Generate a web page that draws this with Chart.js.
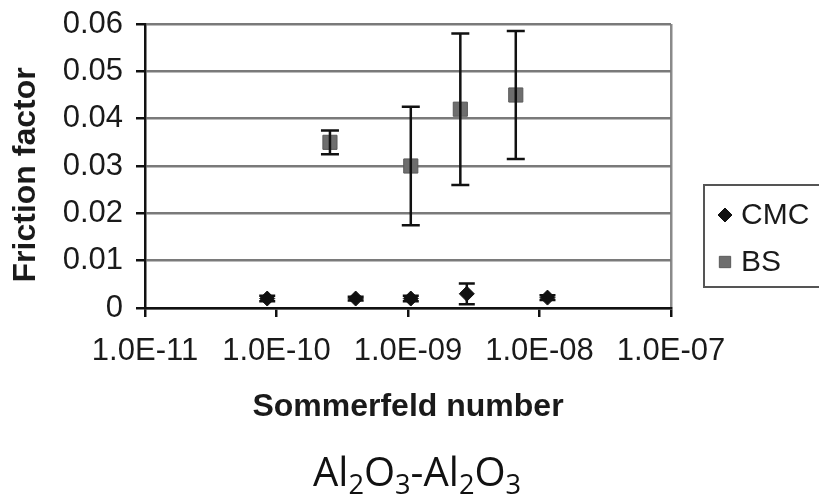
<!DOCTYPE html>
<html>
<head>
<meta charset="utf-8">
<script src="https://cdn.jsdelivr.net/npm/chart.js@4.4.1/dist/chart.umd.min.js"></script>
<style>
  html, body { margin: 0; padding: 0; background: #fff; }
  #wrap { position: relative; width: 819px; height: 497px; overflow: hidden; }
  #graf { position: absolute; left: 0; top: 0; }
  #sub {
    position: absolute; left: 313px; top: 451px;
    font-family: "Open Sans", sans-serif; font-size: 40px; line-height: 1;
    color: #111; white-space: nowrap;
  }
  #sub span { font-size: 0.68em; position: relative; top: 0.3em; }
</style>
</head>
<body>
<div id="wrap">
  <canvas id="graf" width="819" height="497"></canvas>
  <div id="sub">Al<span>2</span>O<span>3</span>-Al<span>2</span>O<span>3</span></div>
</div>
<script>
// data
const cmcX = [8.5e-11, 4.0e-10, 1.05e-9, 2.8e-9, 1.15e-8];
const cmcY = [0.002, 0.002, 0.002, 0.003, 0.0022];
const cmcErr = [0.0006, 0.0004, 0.0006, 0.0022, 0.0005];

const bsX = [2.55e-10, 1.05e-9, 2.5e-9, 6.6e-9];
const bsY = [0.035, 0.030, 0.042, 0.045];
const bsErr = [0.0025, 0.0125, 0.016, 0.0135];

const xTickValues = [1e-11, 1e-10, 1e-9, 1e-8, 1e-7];
const xTickLabels = ['1.0E-11', '1.0E-10', '1.0E-09', '1.0E-08', '1.0E-07'];
const yTickValues = [0, 0.01, 0.02, 0.03, 0.04, 0.05, 0.06];
const yTickLabels = ['0', '0.01', '0.02', '0.03', '0.04', '0.05', '0.06'];

const txt = '#1a1a1a';
const tickFont = { family: 'Liberation Sans', size: 31 };
const titleFont = { family: 'Liberation Sans', size: 32, weight: 'bold' };

// error bars, drawn through the chart scales
const errorBars = {
    id: 'errorBars',
    afterDatasetsDraw(chart) {
        const ctx = chart.ctx;
        const xs = chart.scales.x, ys = chart.scales.y;
        chart.data.datasets.forEach(ds => {
            if (!ds.err) return;
            ctx.save();
            ctx.strokeStyle = '#111';
            ctx.lineWidth = 2.5;
            ds.data.forEach((p, i) => {
                const e = ds.err[i];
                if (!e) return;
                const px = xs.getPixelForValue(p.x);
                const top = ys.getPixelForValue(p.y + e);
                const bot = ys.getPixelForValue(p.y - e);
                const cap = ds.cap;
                ctx.beginPath();
                ctx.moveTo(px, top); ctx.lineTo(px, bot);
                ctx.moveTo(px - cap, top); ctx.lineTo(px + cap, top);
                ctx.moveTo(px - cap, bot); ctx.lineTo(px + cap, bot);
                ctx.stroke();
            });
            ctx.restore();
        });
    }
};

// boxed legend to the right of the plot
const boxLegend = {
    id: 'boxLegend',
    afterDraw(chart) {
        const ctx = chart.ctx;
        const x0 = 704, y0 = 185, w = 125, h = 102;
        ctx.save();
        ctx.strokeStyle = '#555';
        ctx.lineWidth = 2;
        ctx.strokeRect(x0, y0, w, h);
        ctx.font = '30px "Liberation Sans"';
        ctx.textBaseline = 'middle';
        const rows = [215, 262];
        chart.data.datasets.forEach((ds, i) => {
            ctx.fillStyle = ds.backgroundColor;
            ctx.strokeStyle = ds.borderColor;
            ctx.lineWidth = 1;
            Chart.helpers.drawPoint(ctx, {
                pointStyle: ds.pointStyle,
                radius: ds.legendRadius,
                borderWidth: 1
            }, 725, rows[i]);
            ctx.fillStyle = txt;
            ctx.fillText(ds.label, 741, rows[i] + 1);
        });
        ctx.restore();
    }
};

new Chart(document.getElementById('graf'), {
    type: 'scatter',
    data: {
        datasets: [
            {
                label: 'CMC',
                data: cmcX.map((x, i) => ({ x: x, y: cmcY[i] })),
                err: cmcErr,
                cap: 8,
                pointStyle: 'rectRot',
                pointRadius: 7.5,
                legendRadius: 7,
                backgroundColor: '#111',
                borderColor: '#111',
                borderWidth: 1
            },
            {
                label: 'BS',
                data: bsX.map((x, i) => ({ x: x, y: bsY[i] })),
                err: bsErr,
                cap: 9,
                pointStyle: 'rect',
                pointRadius: 10,
                legendRadius: 8,
                backgroundColor: '#6e6e6e',
                borderColor: '#5a5a5a',
                borderWidth: 1
            }
        ]
    },
    options: {
        responsive: false,
        animation: false,
        layout: { padding: { left: 0, right: 148, top: 24, bottom: 63 } },
        plugins: {
            legend: { display: false },
            tooltip: { enabled: false }
        },
        scales: {
            x: {
                type: 'logarithmic',
                min: 1e-11,
                max: 1e-7,
                afterBuildTicks: s => { s.ticks = xTickValues.map(v => ({ value: v })); },
                afterFit: s => { s.height = 126; },
                ticks: {
                    color: txt,
                    font: tickFont,
                    padding: 16,
                    maxRotation: 0,
                    autoSkip: false,
                    callback: (v, i) => xTickLabels[i]
                },
                grid: {
                    color: c => (c.index === xTickValues.length - 1 ? '#8a8a8a' : 'rgba(0,0,0,0)'),
                    lineWidth: 2.5,
                    tickColor: '#111',
                    tickLength: 9,
                    tickWidth: 2.5
                },
                border: { color: '#111', width: 2.5 },
                title: {
                    display: true,
                    text: 'Sommerfeld number',
                    color: txt,
                    font: titleFont,
                    padding: { top: 0, bottom: 8 }
                }
            },
            y: {
                min: 0,
                max: 0.06,
                afterBuildTicks: s => { s.ticks = yTickValues.map(v => ({ value: v })); },
                afterFit: s => { s.width = 145; s.paddingTop = 0; s.paddingBottom = 0; },
                ticks: {
                    color: txt,
                    font: tickFont,
                    padding: 13,
                    callback: (v, i) => yTickLabels[i]
                },
                grid: {
                    color: '#7a7a7a',
                    lineWidth: 2.5,
                    tickColor: '#111',
                    tickLength: 9,
                    tickWidth: 2.5
                },
                border: { color: '#111', width: 2.5 },
                title: {
                    display: true,
                    text: 'Friction factor  ',
                    color: txt,
                    font: titleFont,
                    padding: { top: 7, bottom: 7 }
                }
            }
        }
    },
    plugins: [errorBars, boxLegend]
});
</script>
</body>
</html>
